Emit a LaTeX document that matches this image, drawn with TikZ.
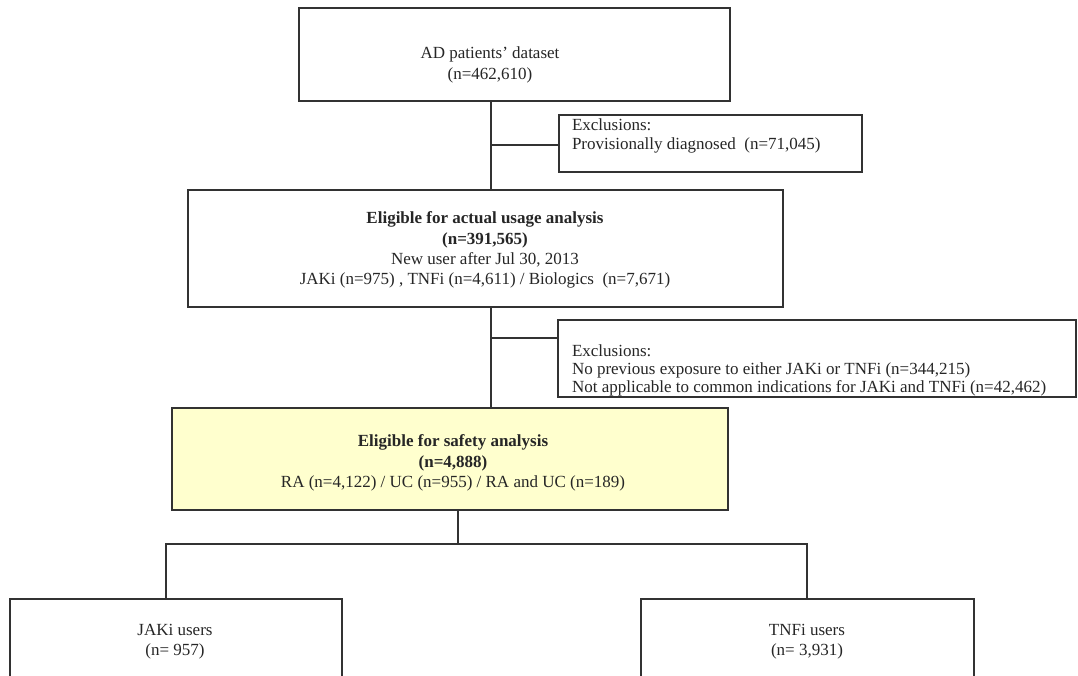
\documentclass[tikz,border=0pt]{standalone}
\usepackage{fontspec}
\setmainfont{Liberation Serif}
\definecolor{linegray}{RGB}{50,50,50}
\definecolor{safeyellow}{RGB}{255,255,206}
\begin{document}
\begin{tikzpicture}[x=1pt,y=-1pt,
  box/.style={draw=linegray, line width=1.6pt, rectangle, inner sep=0pt, outer sep=0pt, fill=white},
  txt/.style={inner sep=0pt, outer sep=0pt, font=\fontsize{17}{20.3}\selectfont, align=center, text=black!85},
  ltxt/.style={inner sep=0pt, outer sep=0pt, font=\fontsize{17}{18.3}\selectfont, align=left, anchor=west, text=black!85},
  conn/.style={draw=linegray, line width=1.6pt}]
\useasboundingbox (0,0) rectangle (1078,676);
\clip (0,0) rectangle (1078,676);
\fill[white] (0,0) rectangle (1078,676);
% boxes
\node[box, minimum width=431pt, minimum height=93pt] (top) at (514.5,54.5) {};
\node[box, minimum width=303pt, minimum height=57pt] (ex1) at (710.5,143.5) {};
\node[box, minimum width=595pt, minimum height=117pt] (mid) at (485.5,248.5) {};
\node[box, minimum width=518pt, minimum height=77pt] (ex2) at (817,358.5) {};
\node[box, fill=safeyellow, minimum width=556pt, minimum height=102pt] (safe) at (450,459) {};
\node[box, minimum width=332pt, minimum height=121pt] (jaki) at (176,659.5) {};
\node[box, minimum width=333pt, minimum height=121pt] (tnfi) at (807.5,659.5) {};
% texts
\node[txt] (toptext) at (490,65) {AD patients’ dataset\\(n=462,610)};
\node[ltxt] (ex1text) at (572,136) {Exclusions:\\Provisionally diagnosed\ \ (n=71,045)};
\node[txt] (midtext) at (485,250) {\textbf{Eligible for actual usage analysis}\\\textbf{(n=391,565)}\\New user after Jul 30, 2013\\JAKi (n=975) , TNFi (n=4,611) / Biologics\ \ (n=7,671)};
\node[ltxt] (ex2text) at (572,370.5) {Exclusions:\\No previous exposure to either JAKi or TNFi (n=344,215)\\Not applicable to common indications for JAKi and TNFi (n=42,462)};
\node[txt] (safetext) at (453,463) {\textbf{Eligible for safety analysis}\\\textbf{(n=4,888)}\\RA (n=4,122) / UC (n=955) / RA and UC (n=189)};
\node[txt] (jakitext) at (175,642) {JAKi users\\(n= 957)};
\node[txt] (tnfitext) at (807,642) {TNFi users\\(n= 3,931)};
% connectors
\coordinate (j1) at (491,145);
\coordinate (j2) at (491,338);
\coordinate (b) at (458,544);
\coordinate (bl) at (166,544);
\coordinate (br) at (807,544);
\draw[conn] (top.south -| j1) -- (mid.north -| j1);
\draw[conn] (j1) -- (ex1.west |- j1);
\draw[conn] (mid.south -| j2) -- (safe.north -| j2);
\draw[conn] (j2) -- (ex2.west |- j2);
\draw[conn] (safe.south -| b) -- (b);
\draw[conn] (bl |- jaki.north) -- (bl) -- (br) -- (br |- tnfi.north);
\end{tikzpicture}
\end{document}
